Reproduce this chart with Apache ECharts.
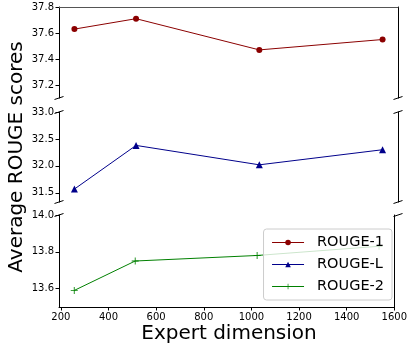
<!DOCTYPE html>
<html>
<head>
<meta charset="utf-8">
<script src="https://cdn.jsdelivr.net/npm/echarts@6/dist/echarts.min.js"></script>
<style>
html, body { margin: 0; padding: 0; background: #fff; }
#chart { width: 410px; height: 343px; }
</style>
</head>
<body>
<div id="chart"></div>
<script>
// expert dimension
var dims = [256, 512, 1024, 1536];
var rouge1 = [37.63, 37.71, 37.47, 37.55];
var rougeL = [31.57, 32.38, 32.02, 32.30];
var rouge2 = [13.59, 13.75, 13.78, 13.83];
var xTicks = [200, 400, 600, 800, 1000, 1200, 1400, 1600];
var ticks1 = [37.2, 37.4, 37.6, 37.8];
var ticksL = [31.5, 32.0, 32.5, 33.0];
var ticks2 = [13.6, 13.8, 14.0];

var L = 59, W = 339;
var panels = [
    {top: 7, height: 91, min: 37.1, max: 37.8, ticks: ticks1},
    {top: 112, height: 90, min: 31.33, max: 33.0, ticks: ticksL},
    {top: 215, height: 92, min: 13.5, max: 14.0, ticks: ticks2}
];
var font = 'DejaVu Sans';

var chart = echarts.init(document.getElementById('chart'));

var grids = [], xAxes = [], yAxes = [];
panels.forEach(function (p, i) {
    grids.push({left: L, width: W, top: p.top, height: p.height});
    var bottom = i === 2;
    xAxes.push({
        type: 'value', gridIndex: i, min: 192, max: 1600,
        position: i === 0 ? 'top' : 'bottom',
        axisLine: {show: i !== 1, lineStyle: {color: i === 0 ? '#555' : '#000', width: 1}},
        axisTick: {show: bottom, length: 3.5, customValues: xTicks, lineStyle: {color: '#000'}},
        axisLabel: {show: bottom, customValues: xTicks, color: '#000', fontSize: 10, fontFamily: font, margin: 5,
            formatter: function (v) { return String(v); }},
        splitLine: {show: false}
    });
    yAxes.push({
        type: 'value', gridIndex: i, min: p.min, max: p.max, position: 'left',
        axisLine: {show: true, lineStyle: {color: '#000', width: 1}},
        axisTick: {show: true, length: 3.5, customValues: p.ticks, lineStyle: {color: '#000'}},
        axisLabel: {customValues: p.ticks, color: '#000', fontSize: 10, fontFamily: font, margin: 5,
            formatter: function (v) { return v.toFixed(1); }},
        splitLine: {show: false}
    });
    yAxes.push({
        type: 'value', gridIndex: i, min: p.min, max: p.max, position: 'right',
        axisLine: {show: true, lineStyle: {color: '#000', width: 1}},
        axisTick: {show: false}, axisLabel: {show: false}, splitLine: {show: false}
    });
});

// broken axis marks
var marks = [];
function brk(x, y) {
    marks.push({type: 'line', shape: {x1: x - 4.5, y1: y + 1.5, x2: x + 4.5, y2: y - 1.5},
        style: {stroke: '#000', lineWidth: 1}, z: 100});
}
[[0, 'b'], [1, 't'], [1, 'b'], [2, 't']].forEach(function (m) {
    var p = panels[m[0]];
    var y = m[1] === 'b' ? p.top + p.height : p.top;
    brk(L, y);
    brk(L + W, y);
});
marks.push({type: 'text', rotation: Math.PI / 2, x: 17, y: 157,
    style: {text: 'Average ROUGE scores', fill: '#000', font: '20px ' + font,
        textAlign: 'center', textVerticalAlign: 'middle'}});
marks.push({type: 'text', x: 229, y: 334, style: {text: 'Expert dimension', fill: '#000',
    font: '20px ' + font, textAlign: 'center', textVerticalAlign: 'middle'}});

function pairs(vals) {
    return vals.map(function (v, k) { return [dims[k], v]; });
}

var plus = 'path://M4.4,0h1.2v4.4h4.4v1.2h-4.4v4.4h-1.2v-4.4h-4.4v-1.2h4.4z';
option = {
    animation: false,
    grid: grids,
    xAxis: xAxes,
    yAxis: yAxes,
    graphic: marks,
    legend: {
        right: 18, top: 229, orient: 'vertical',
        itemWidth: 32, itemHeight: 7, itemGap: 7,
        padding: [6, 8, 6, 8],
        backgroundColor: 'rgba(255,255,255,0.8)',
        borderColor: '#cccccc', borderWidth: 1, borderRadius: 3,
        lineStyle: {width: 1},
        textStyle: {color: '#000', fontSize: 14.5, fontFamily: font, padding: [0, 0, 0, 8]},
        data: ['ROUGE-1', 'ROUGE-L', 'ROUGE-2'],
        z: 50
    },
    series: []
};
option.series.push({
    name: 'ROUGE-1', type: 'line', xAxisIndex: 0, yAxisIndex: 0,
    data: pairs(rouge1), symbol: 'circle', symbolSize: 6,
    lineStyle: {color: '#8b0000', width: 1}, itemStyle: {color: '#8b0000'}
});
option.series.push({
    name: 'ROUGE-L', type: 'line', xAxisIndex: 1, yAxisIndex: 2,
    data: pairs(rougeL), symbol: 'triangle', symbolSize: 7,
    lineStyle: {color: '#00008b', width: 1}, itemStyle: {color: '#00008b'}
});
option.series.push({
    name: 'ROUGE-2', type: 'line', xAxisIndex: 2, yAxisIndex: 4,
    data: pairs(rouge2), symbol: plus, symbolSize: 7,
    lineStyle: {color: '#008000', width: 1}, itemStyle: {color: '#008000'}
});
chart.setOption(option);
</script>
</body>
</html>
